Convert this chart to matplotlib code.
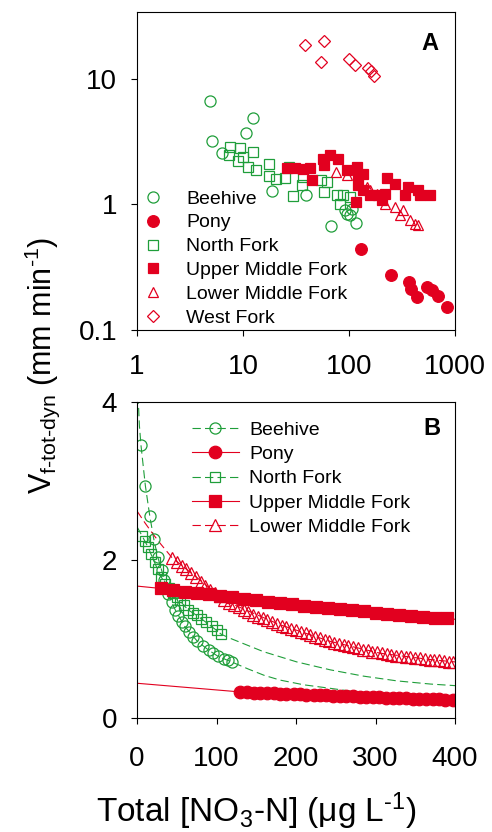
import matplotlib
matplotlib.use("Agg")
import matplotlib.pyplot as plt
from matplotlib.lines import Line2D

plt.rcParams['font.family'] = ['Liberation Sans', 'DejaVu Sans']
plt.rcParams['mathtext.fontset'] = 'custom'
plt.rcParams['mathtext.rm'] = 'Liberation Sans'
plt.rcParams['mathtext.it'] = 'Liberation Sans:italic'
plt.rcParams['mathtext.bf'] = 'Liberation Sans:bold'
plt.rcParams['lines.scale_dashes'] = False

GREEN = '#1f9e3a'
RED = '#e2001f'

# ---------------- panel A data (log-log scatter) ----------------
beehive_a_x = [4.9, 5.1, 6.4, 10.7, 12.5, 18.6, 39, 68, 92, 95, 102, 106, 116]
beehive_a_y = [6.7, 3.17, 2.57, 3.72, 4.9, 1.28, 1.18, 0.67, 0.90, 0.84, 0.82, 0.92, 0.71]

pony_a_x = [129, 249, 371, 385, 435, 541, 603, 697, 834]
pony_a_y = [0.44, 0.275, 0.239, 0.211, 0.184, 0.221, 0.208, 0.187, 0.151]

nf_a_x = [7.5, 7.4, 9.4, 10.1, 9.0, 12.3, 11.2, 13.3, 17.7, 17.7, 20.5, 24.9,
          27.3, 29.8, 35.8, 37, 55, 61.6, 58.5, 77.6, 82, 88, 102]
nf_a_y = [2.88, 2.47, 2.79, 2.39, 2.22, 2.62, 1.99, 1.89, 2.09, 1.67, 1.60, 1.62,
          1.99, 1.17, 1.42, 1.65, 1.56, 1.51, 1.26, 1.18, 1.0, 1.18, 1.14]

umf_a_x = [25.8, 31, 36.6, 42.9, 44.3, 57, 66, 58.5, 79, 95, 118, 122, 137, 122,
           137, 116, 158, 189, 219, 227, 272, 363, 337, 450, 468, 581, 203]
umf_a_y = [1.93, 1.93, 1.90, 1.93, 1.56, 2.28, 2.47, 2.05, 2.28, 1.87, 1.99, 1.71,
           1.76, 1.42, 1.29, 1.04, 1.18, 1.18, 1.22, 1.61, 1.46, 1.38, 1.18, 1.29,
           1.18, 1.18, 1.08]

lmf_a_x = [76, 95, 147, 158, 182, 219, 272, 303, 325, 376, 420, 450]
lmf_a_y = [1.82, 1.71, 1.38, 1.29, 1.22, 1.01, 0.95, 0.816, 0.895, 0.745, 0.70, 0.68]

wf_a_x = [38.5, 58, 54, 100, 114, 152, 160, 172]
wf_a_y = [18.4, 19.9, 13.7, 14.4, 12.9, 12.2, 11.5, 10.6]

# ---------------- panel B data (linear, fitted curves) ----------------
bh_b_x = [5, 10.5, 16, 21, 26, 31, 34, 39, 44, 48, 52, 56, 60, 65, 70, 76, 83,
          90, 96, 102, 109, 114, 119]
bh_b_y = [3.45, 2.94, 2.56, 2.27, 2.04, 1.87, 1.75, 1.57, 1.47, 1.37, 1.29, 1.22,
          1.16, 1.09, 1.03, 0.97, 0.91, 0.86, 0.82, 0.78, 0.75, 0.73, 0.71]
bh_fit_x = [1.0, 1.7, 3, 5, 10.5, 16, 21, 26, 31, 39, 48, 60, 76, 90, 102, 119,
            140, 160, 180, 210, 243, 276, 320, 360, 400]
bh_fit_y = [4.4, 4.0, 3.7, 3.45, 2.94, 2.56, 2.27, 2.04, 1.87, 1.57, 1.37, 1.16,
            0.97, 0.86, 0.78, 0.71, 0.62, 0.54, 0.48, 0.42, 0.376, 0.33, 0.30,
            0.275, 0.255]

pony_b_x = [130, 138, 147, 155, 163, 172, 180, 188, 197, 205, 213, 222, 230, 238,
            247, 255, 263, 272, 280, 288, 297, 305, 313, 322, 330, 338, 347, 355,
            363, 372, 380, 388, 397]
pony_b_y = [0.330, 0.326, 0.322, 0.318, 0.315, 0.311, 0.308, 0.304, 0.301, 0.298,
            0.295, 0.292, 0.289, 0.286, 0.283, 0.280, 0.277, 0.274, 0.271, 0.268,
            0.265, 0.262, 0.259, 0.256, 0.253, 0.250, 0.247, 0.245, 0.242, 0.239,
            0.237, 0.234, 0.232]
pony_fit_x = [0, 130, 260, 400]
pony_fit_y = [0.44, 0.33, 0.28, 0.23]

nf_b_x = [6.7, 10, 14, 18, 22, 26, 30, 35, 40, 45, 50, 54, 59, 64, 70, 75, 81,
          87, 94, 100, 106]
nf_b_y = [2.30, 2.24, 2.16, 2.07, 1.97, 1.88, 1.79, 1.70, 1.64, 1.58, 1.53, 1.49,
          1.43, 1.37, 1.33, 1.30, 1.25, 1.21, 1.16, 1.11, 1.06]
nf_fit_x = [0, 6.7, 14, 22, 30, 40, 50, 64, 75, 87, 100, 106, 117, 159, 201, 243,
            285, 327, 369, 400]
nf_fit_y = [2.42, 2.30, 2.16, 1.97, 1.79, 1.64, 1.53, 1.37, 1.30, 1.21, 1.11, 1.06,
            1.01, 0.84, 0.71, 0.61, 0.53, 0.47, 0.43, 0.41]

umf_b_x = [30, 45, 60, 75, 90, 105, 120, 135, 150, 165, 180, 195, 210, 225, 240,
           255, 270, 285, 300, 315, 330, 345, 360, 375, 390]
umf_b_y = [1.64, 1.62, 1.60, 1.585, 1.57, 1.55, 1.53, 1.51, 1.49, 1.47, 1.45, 1.44,
           1.42, 1.41, 1.395, 1.38, 1.365, 1.35, 1.335, 1.32, 1.31, 1.295, 1.285,
           1.27, 1.26]
umf_fit_x = [0, 30, 120, 255, 390, 400]
umf_fit_y = [1.67, 1.64, 1.53, 1.38, 1.26, 1.25]

lmf_b_x = [44, 50, 56, 62, 68, 74, 80, 86, 92, 98, 104, 110, 116, 122, 128, 134,
           140, 146, 152, 158, 164, 170, 176, 182, 188, 194, 200, 206, 212, 218,
           224, 230, 236, 242, 248, 254, 260, 266, 272, 278, 284, 290, 296, 302,
           308, 314, 320, 326, 332, 338, 344, 350, 356, 362, 368, 374, 380, 386,
           392, 398]
lmf_b_y = [2.02, 1.97, 1.93, 1.88, 1.83, 1.78, 1.72, 1.67, 1.62, 1.58, 1.54, 1.50,
           1.46, 1.43, 1.40, 1.37, 1.34, 1.31, 1.28, 1.26, 1.24, 1.21, 1.19, 1.17,
           1.15, 1.13, 1.11, 1.09, 1.07, 1.05, 1.03, 1.01, 0.99, 0.97, 0.955, 0.94,
           0.925, 0.91, 0.895, 0.88, 0.865, 0.855, 0.84, 0.83, 0.82, 0.81, 0.80,
           0.79, 0.78, 0.775, 0.77, 0.76, 0.755, 0.745, 0.74, 0.735, 0.73, 0.72,
           0.715, 0.71]
lmf_fit_x = [0, 10, 20, 30, 44, 75, 102, 125, 180, 243, 306, 369, 400]
lmf_fit_y = [2.62, 2.47, 2.33, 2.20, 2.03, 1.78, 1.56, 1.42, 1.18, 0.97, 0.82,
             0.74, 0.71]

names = ['Beehive', 'Pony', 'North Fork', 'Upper Middle Fork',
         'Lower Middle Fork', 'West Fork']

fig = plt.figure(figsize=(4.92, 8.32), dpi=100)
ax_a = fig.add_axes([0.2785, 0.6034, 0.6463, 0.3822])
ax_b = fig.add_axes([0.2785, 0.1370, 0.6463, 0.3798])

mew = 0.9

# Panel A
ax_a.plot(beehive_a_x, beehive_a_y, 'o', ms=8.0, mfc='none', mec=GREEN, mew=mew, label=names[0])
ax_a.plot(pony_a_x, pony_a_y, 'o', ms=8.4, mfc=RED, mec=RED, mew=mew, label=names[1])
ax_a.plot(nf_a_x, nf_a_y, 's', ms=7.0, mfc='none', mec=GREEN, mew=mew, label=names[2])
ax_a.plot(lmf_a_x, lmf_a_y, '^', ms=7.8, mfc='none', mec=RED, mew=mew, label=names[4])
ax_a.plot(umf_a_x, umf_a_y, 's', ms=7.5, mfc=RED, mec=RED, mew=mew, label=names[3])
ax_a.plot(wf_a_x, wf_a_y, 'D', ms=6.0, mfc='none', mec=RED, mew=mew, label=names[5])

ax_a.set_xscale('log')
ax_a.set_yscale('log')
ax_a.set_xlim(1, 1000)
ax_a.set_ylim(0.1, 34)
ax_a.set_xticks([1, 10, 100, 1000])
ax_a.set_xticklabels(['1', '10', '100', '1000'])
ax_a.set_yticks([0.1, 1, 10])
ax_a.set_yticklabels(['0.1', '1', '10'])
ax_a.minorticks_off()
ax_a.tick_params(axis='x', pad=13)

h, l = ax_a.get_legend_handles_labels()
order = [0, 1, 2, 4, 3, 5]
ax_a.legend([h[i] for i in order], [l[i] for i in order], loc='upper left',
            bbox_to_anchor=(0.02, 0.44), frameon=False, fontsize=14,
            handlelength=1.0, handletextpad=1.2, labelspacing=0.32,
            borderpad=0, borderaxespad=0)
ax_a.text(0.921, 0.9, 'A', transform=ax_a.transAxes, ha='center', va='center',
          fontsize=17, fontweight='bold')

# Panel B
dash = (6, 3)
ax_b.plot(nf_fit_x, nf_fit_y, '--', color=GREEN, lw=0.8, dashes=dash)
ax_b.plot(bh_fit_x, bh_fit_y, '--', color=GREEN, lw=0.8, dashes=dash)
ax_b.plot(lmf_fit_x, lmf_fit_y, '--', color=RED, lw=0.8, dashes=dash)
ax_b.plot(umf_fit_x, umf_fit_y, '-', color=RED, lw=0.8)
ax_b.plot(pony_fit_x, pony_fit_y, '-', color=RED, lw=0.8)

ax_b.plot(nf_b_x, nf_b_y, 's', ms=7.0, mfc='none', mec=GREEN, mew=mew)
ax_b.plot(bh_b_x, bh_b_y, 'o', ms=8.0, mfc='none', mec=GREEN, mew=mew)
ax_b.plot(lmf_b_x, lmf_b_y, '^', ms=9.0, mfc='none', mec=RED, mew=mew)
ax_b.plot(umf_b_x, umf_b_y, 's', ms=8.3, mfc=RED, mec=RED, mew=mew)
ax_b.plot(pony_b_x, pony_b_y, 'o', ms=9.0, mfc=RED, mec=RED, mew=mew)

ax_b.set_xlim(0, 400)
ax_b.set_ylim(0, 4)
ax_b.set_xticks([0, 100, 200, 300, 400])
ax_b.set_yticks([0, 2, 4])
ax_b.tick_params(axis='x', pad=16)

leg_b = [
    Line2D([], [], color=GREEN, lw=0.8, dashes=dash, marker='o', ms=8.0, mfc='none', mec=GREEN, mew=mew),
    Line2D([], [], color=RED, lw=0.8, marker='o', ms=9.0, mfc=RED, mec=RED, mew=mew),
    Line2D([], [], color=GREEN, lw=0.8, dashes=dash, marker='s', ms=7.0, mfc='none', mec=GREEN, mew=mew),
    Line2D([], [], color=RED, lw=0.8, marker='s', ms=8.3, mfc=RED, mec=RED, mew=mew),
    Line2D([], [], color=RED, lw=0.8, dashes=dash, marker='^', ms=9.0, mfc='none', mec=RED, mew=mew),
]
ax_b.legend(leg_b, names[:5], loc='upper left', bbox_to_anchor=(0.173, 0.94),
            frameon=False, fontsize=14, handlelength=2.4, handletextpad=0.55,
            labelspacing=0.35, borderpad=0, borderaxespad=0)
ax_b.text(0.928, 0.915, 'B', transform=ax_b.transAxes, ha='center', va='center',
          fontsize=17, fontweight='bold')

for ax in (ax_a, ax_b):
    ax.tick_params(direction='out', length=4.3, width=0.8, labelsize=20,
                   top=False, right=False)
    ax.tick_params(axis='y', pad=10)
    for s in ax.spines.values():
        s.set_linewidth(0.8)

fig.text(0.085, 0.561, r'V$_{\mathregular{f\text{-}tot\text{-}dyn}}$ (mm min$^{\mathregular{\text{-}1}}$)',
         rotation=90, ha='center', va='center', fontsize=22)
fig.text(0.52, 0.012, 'Total [NO$_{\\mathregular{3}}$-N] (\u03bcg L$^{\\mathregular{\\text{-}1}}$)',
         ha='center', va='baseline', fontsize=24)

fig.savefig('out.png', dpi=100)
